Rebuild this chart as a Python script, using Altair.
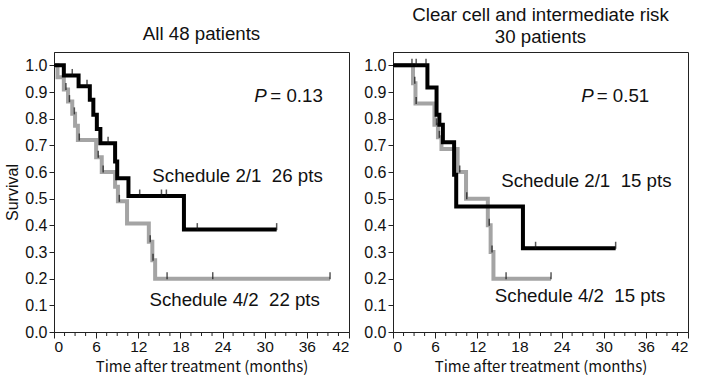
import altair as alt
import pandas as pd

# ---------------- data ----------------
# Left panel: all 48 patients
left_black_t = [0, 1.4, 3.5, 5.1, 5.6, 6.1, 6.6, 8.7, 9.0, 10.6, 18.5, 31.7]
left_black_s = [1.0, 0.962, 0.922, 0.871, 0.815, 0.761, 0.708, 0.639, 0.577, 0.51, 0.384, 0.384]
left_black_cens = [2.6, 4.7, 7.7, 12.2, 15.3, 16.0, 20.4, 31.7]

left_gray_t = [0, 0.5, 1.4, 2.0, 2.6, 3.0, 3.4, 6.0, 6.8, 8.7, 9.1, 10.4, 13.5, 14.0, 14.4, 39.3]
left_gray_s = [1.0, 0.955, 0.909, 0.864, 0.818, 0.773, 0.72, 0.655, 0.60, 0.545, 0.49, 0.407, 0.338, 0.269, 0.20, 0.20]
left_gray_cens = [1.7, 2.2, 2.9, 3.6, 6.3, 7.0, 9.3, 13.7, 14.1, 16.1, 22.6, 39.3]

# Right panel: clear cell and intermediate risk, 30 patients
right_black_t = [0, 4.9, 6.2, 6.6, 7.1, 8.7, 9.0, 18.5, 31.7]
right_black_s = [1.0, 0.917, 0.815, 0.777, 0.712, 0.59, 0.471, 0.314, 0.314]
right_black_cens = [2.7, 3.3, 4.7, 20.3, 31.7]

right_gray_t = [0, 2.85, 3.2, 5.9, 6.4, 6.9, 9.2, 10.4, 13.5, 13.9, 14.3, 22.5]
right_gray_s = [1.0, 0.933, 0.857, 0.777, 0.73, 0.686, 0.60, 0.50, 0.40, 0.30, 0.20, 0.20]
right_gray_cens = [3.1, 3.3, 6.2, 6.6, 9.5, 10.5, 13.7, 14.1, 16.1, 22.5]

x_major = [0, 6, 12, 18, 24, 30, 36, 42]
x_minor = [1.5, 3, 4.5, 7.5, 9, 10.5, 13.5, 15, 16.5, 19.5, 21, 22.5,
           25.5, 27, 28.5, 31.5, 33, 34.5, 37.5, 39, 40.5]
y_ticks = [0.0, 0.1, 0.2, 0.3, 0.4, 0.5, 0.6, 0.7, 0.8, 0.9, 1.0]

W, H = 295, 280
BLACK = "#000000"
GRAY = "#a4a4a4"
FONT = "Liberation Sans"
FS = 18.7


def surv_at(ts, ss, t):
    v = ss[0]
    for ti, si in zip(ts, ss):
        if ti <= t:
            v = si
    return v


def panel(bt, bs, bc, gt, gs, gc, titles, p_text, p_pos, lab1, pos1, lab2, pos2, ytitle):
    xs = alt.Scale(domain=[0, 42], nice=False)
    ys = alt.Scale(domain=[0, 1.05], nice=False)
    xax = alt.Axis(values=x_major, title="Time after treatment (months)", tickSize=6,
                   labelFontSize=15.5, titleFontSize=15, titleFont="Noto Sans CJK JP",
                   titleFontWeight="normal", labelPadding=1, titlePadding=5, grid=False,
                   labelOverlap=False,
                   domainColor="#222", tickColor="#222", labelColor="#111", titleColor="#111")
    yax = alt.Axis(values=y_ticks, tickCount=11, format=".1f", tickSize=5, labelFontSize=16,
                   title=ytitle if ytitle else "", titleFontSize=16, titleFontWeight="normal",
                   labelPadding=2, titlePadding=4, grid=False, labelOverlap=False,
                   domainColor="#222", tickColor="#222", labelColor="#111", titleColor="#111")

    def X(field):
        return alt.X(field, scale=xs, axis=xax)

    def Y(field):
        return alt.Y(field, scale=ys, axis=yax)

    def XD(v):
        return alt.XDatum(v, type="quantitative", scale=xs, axis=xax)

    def YD(v):
        return alt.YDatum(v, type="quantitative", scale=ys, axis=yax)

    gdf = pd.DataFrame({"t": gt, "s": gs})
    bdf = pd.DataFrame({"t": bt, "s": bs})
    gcdf = pd.DataFrame({"t": gc, "s": [surv_at(gt, gs, t) for t in gc]})
    bcdf = pd.DataFrame({"t": bc, "s": [surv_at(bt, bs, t) for t in bc]})
    mdf = pd.DataFrame({"t": x_minor})

    gline = alt.Chart(gdf).mark_line(interpolate="step-after", color=GRAY, strokeWidth=4,
                                     strokeCap="butt").encode(x=X("t:Q"), y=Y("s:Q"))
    bline = alt.Chart(bdf).mark_line(interpolate="step-after", color=BLACK, strokeWidth=4,
                                     strokeCap="butt").encode(x=X("t:Q"), y=Y("s:Q"))
    gcm = alt.Chart(gcdf).mark_tick(orient="vertical", size=7, thickness=1.5, color="#111",
                                    yOffset=-3).encode(x=X("t:Q"), y=Y("s:Q"))
    bcm = alt.Chart(bcdf).mark_tick(orient="vertical", size=7, thickness=1.5, color="#111",
                                    yOffset=-3).encode(x=X("t:Q"), y=Y("s:Q"))
    minor = alt.Chart(mdf).mark_rule(color="#222", strokeWidth=1).encode(
        x=X("t:Q"), y=alt.value(H), y2=alt.value(H + 4))

    layers = [gline, bline, gcm, bcm, minor]

    def txt(x, y, text, align="left", style="normal"):
        return alt.Chart().mark_text(align=align, baseline="middle", fontSize=FS,
                                     fontStyle=style, font=FONT, color="#111").encode(
            x=XD(x), y=YD(y), text=alt.value(text))

    layers.append(txt(p_pos[0], p_pos[1], "P", style="italic"))
    layers.append(txt(p_pos[2], p_pos[1], p_text))
    layers.append(txt(pos1[0], pos1[1], lab1))
    layers.append(txt(pos2[0], pos2[1], lab2))
    for ttl, yy in titles:
        layers.append(alt.Chart().mark_text(align="center", baseline="middle", fontSize=FS,
                                            font=FONT, color="#111").encode(
            x=alt.value(W / 2), y=alt.value(yy), text=alt.value(ttl)))

    return alt.layer(*layers).properties(width=W, height=H)


left = panel(left_black_t, left_black_s, left_black_cens,
             left_gray_t, left_gray_s, left_gray_cens,
             [("All 48 patients", -18)],
             "= 0.13", (28.5, 0.885, 30.8),
             "Schedule 2/1\u00a0 26 pts", (14.0, 0.584),
             "Schedule 4/2\u00a0 22 pts", (13.6, 0.12),
             "Survival")

right = panel(right_black_t, right_black_s, right_black_cens,
              right_gray_t, right_gray_s, right_gray_cens,
              [("Clear cell and intermediate risk", -37), ("30 patients", -15)],
              "= 0.51", (26.8, 0.885, 29.0),
              "Schedule 2/1\u00a0 15 pts", (15.4, 0.566),
              "Schedule 4/2\u00a0 15 pts", (14.5, 0.135),
              None)

chart = alt.hconcat(left, right, spacing=13).properties(
    padding={"left": 4, "top": 5, "right": 2, "bottom": 0}
).configure(font=FONT, background="white").configure_view(
    stroke="#222", strokeWidth=1
)

chart.save("out.html", embed_options={"renderer": "svg", "actions": False})
